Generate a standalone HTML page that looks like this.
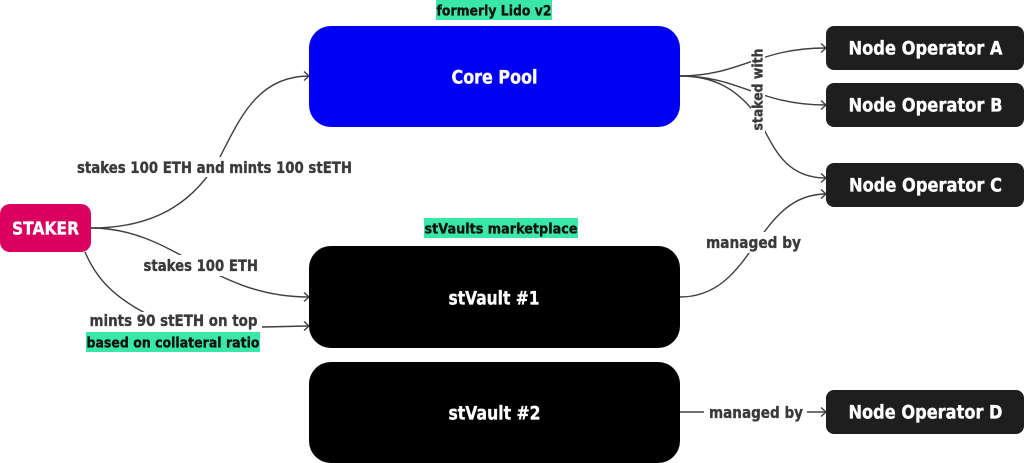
<!DOCTYPE html>
<html><head><meta charset="utf-8"><style>
html,body{margin:0;padding:0;background:#fff;width:1024px;height:463px;overflow:hidden}
svg{display:block}
text{font-family:"DejaVu Sans","Liberation Sans",sans-serif;font-weight:700;stroke-width:.35;paint-order:stroke}
.w{fill:#fff;stroke:#fff}
.g{fill:#3a3a3a;stroke:#3a3a3a}
.k{fill:#111;stroke:#111}
.c{fill:none;stroke:#3f3f3f;stroke-width:1.4}
.a{fill:none;stroke:#3f3f3f;stroke-width:1.4}
</style></head><body>
<svg width="1024" height="463" viewBox="0 0 1024 463" xmlns="http://www.w3.org/2000/svg">
<rect x="0" y="0" width="1024" height="463" fill="#fff"/>
<!-- connectors -->
<path class="c" d="M91 228C160 228 197 198 220 157C240 118 258 76 309 76"/>
<path class="c" d="M91 228C175 228 210 297 309 297"/>
<path class="c" d="M85 252C97 280 115 297 145 313"/>
<path class="c" d="M262 327L309 326"/>
<path class="c" d="M680 76C740 76 758 48 826 48"/>
<path class="c" d="M680 76C740 76 758 105 826 105"/>
<path class="c" d="M680 76C715 76 735 90 750 107C770 130 775 178 826 178"/>
<path class="c" d="M680 297C755 297 755 194 826 194"/>
<path class="c" d="M680 412H826"/>
<!-- arrowheads -->
<path class="a" d="M304 71.500L309 76L304 80.500"/>
<path class="a" d="M304 292.500L309 297L304 301.500"/>
<path class="a" d="M304 321.500L309 326L304 330.500"/>
<path class="a" d="M821 43.500L826 48L821 52.500"/>
<path class="a" d="M821 100.500L826 105L821 109.500"/>
<path class="a" d="M821 173.500L826 178L821 182.500"/>
<path class="a" d="M821 189.500L826 194L821 198.500"/>
<path class="a" d="M821 407.500L826 412L821 416.500"/>
<!-- label backgrounds -->
<rect x="75" y="157" width="279" height="20" fill="#fff"/>
<rect x="141" y="255" width="119" height="21" fill="#fff"/>
<rect x="87" y="312" width="175" height="21" fill="#fff"/>
<rect x="704" y="232" width="99" height="21" fill="#fff"/>
<rect x="704" y="402" width="103" height="21" fill="#fff"/>
<rect x="751" y="46" width="14" height="87" fill="#fff"/>
<!-- nodes -->
<rect x="309" y="26" width="371" height="101" rx="22" fill="#0000f5"/>
<rect x="309" y="246" width="371" height="102" rx="22" fill="#000"/>
<rect x="309" y="362" width="371" height="101" rx="22" fill="#000"/>
<rect x="0" y="204" width="91" height="48" rx="10" fill="#d9005f"/>
<rect x="826" y="26" width="198" height="44" rx="8" fill="#1e1e1e"/>
<rect x="826" y="83" width="198" height="44" rx="8" fill="#1e1e1e"/>
<rect x="826" y="163" width="198" height="44" rx="8" fill="#1e1e1e"/>
<rect x="826" y="390" width="198" height="44" rx="8" fill="#1e1e1e"/>
<!-- highlights -->
<rect x="436" y="0" width="116" height="20" fill="#39e8a8"/>
<rect x="424" y="218" width="154" height="20" fill="#39e8a8"/>
<rect x="86" y="332" width="174" height="20" fill="#39e8a8"/>
<!-- text -->
<text class="k" x="436.500" y="15.500" font-size="14.500" textLength="115" lengthAdjust="spacingAndGlyphs">formerly Lido v2</text>
<text class="k" x="424.500" y="233.500" font-size="14.500" textLength="153" lengthAdjust="spacingAndGlyphs">stVaults marketplace</text>
<text class="k" x="86.500" y="347.500" font-size="14.500" textLength="173" lengthAdjust="spacingAndGlyphs">based on collateral ratio</text>
<text class="w" x="451.500" y="83.500" font-size="18.500" textLength="86" lengthAdjust="spacingAndGlyphs">Core Pool</text>
<text class="w" x="448.500" y="304.500" font-size="18.500" textLength="91" lengthAdjust="spacingAndGlyphs">stVault #1</text>
<text class="w" x="448.500" y="419.500" font-size="18.500" textLength="92" lengthAdjust="spacingAndGlyphs">stVault #2</text>
<text class="w" x="12" y="234.500" font-size="17.500" textLength="67" lengthAdjust="spacingAndGlyphs">STAKER</text>
<text class="w" x="848.500" y="54.500" font-size="18.500" textLength="154" lengthAdjust="spacingAndGlyphs">Node Operator A</text>
<text class="w" x="848.500" y="111.500" font-size="18.500" textLength="154" lengthAdjust="spacingAndGlyphs">Node Operator B</text>
<text class="w" x="849" y="191.500" font-size="18.500" textLength="153" lengthAdjust="spacingAndGlyphs">Node Operator C</text>
<text class="w" x="848.500" y="418.500" font-size="18.500" textLength="154" lengthAdjust="spacingAndGlyphs">Node Operator D</text>
<text class="g" x="77" y="173" font-size="16" textLength="275" lengthAdjust="spacingAndGlyphs">stakes 100 ETH and mints 100 stETH</text>
<text class="g" x="143.500" y="271" font-size="16" textLength="114.500" lengthAdjust="spacingAndGlyphs">stakes 100 ETH</text>
<text class="g" x="89.500" y="326" font-size="16" textLength="168" lengthAdjust="spacingAndGlyphs">mints 90 stETH on top</text>
<text class="g" x="706" y="248" font-size="16" textLength="95" lengthAdjust="spacingAndGlyphs">managed by</text>
<text class="g" x="709" y="418" font-size="16" textLength="94" lengthAdjust="spacingAndGlyphs">managed by</text>
<text class="g" transform="translate(762.500 130.500) rotate(-90)" x="0" y="0" font-size="14.500" textLength="82" lengthAdjust="spacingAndGlyphs">staked with</text>
</svg>
</body></html>
